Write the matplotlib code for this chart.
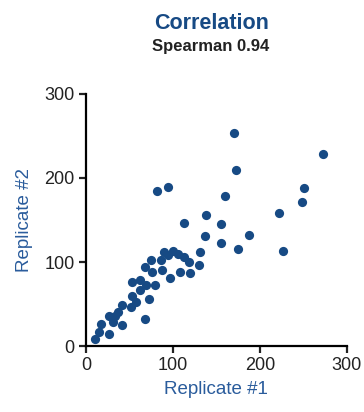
import matplotlib.pyplot as plt

# values
rep1 = [170, 273, 172, 82, 94, 160, 251, 248, 222, 138, 113, 155, 137, 188, 155,
        175, 227, 131, 130, 120, 108, 119, 113, 106, 100, 94, 90, 86, 75, 68,
        76, 87, 97, 79, 69, 62, 53, 62, 53, 58, 52, 42, 72, 68, 37, 34, 26,
        31, 42, 17, 27, 15, 11]
rep2 = [254, 228, 209, 184, 189, 178, 188, 172, 158, 156, 146, 145, 131, 132, 123,
        116, 113, 112, 96, 87, 88, 100, 106, 110, 113, 108, 112, 102, 103, 94,
        88, 90, 81, 73, 73, 79, 76, 67, 60, 52, 46, 49, 56, 32, 40, 36, 36,
        29, 25, 26, 14, 17, 8]

navy = '#174a84'
blue = '#2a5c9c'
font = ['Liberation Sans', 'DejaVu Sans']

fig = plt.figure(figsize=(3.64, 4.12), dpi=100)
ax = fig.add_axes([0.236, 0.160, 0.717, 0.612])
ax.scatter(rep1, rep2, s=44, color=navy, linewidths=0, zorder=3, clip_on=False)

ax.set_xlim(0, 300)
ax.set_ylim(0, 300)
ax.set_xticks([0, 100, 200, 300])
ax.set_yticks([0, 100, 200, 300])
for s in ['top', 'right']:
    ax.spines[s].set_visible(False)
for s in ['left', 'bottom']:
    ax.spines[s].set_linewidth(1.6)
ax.tick_params(width=1.6, length=5, labelsize=13, pad=3, colors='#222222')
for lab in ax.get_xticklabels() + ax.get_yticklabels():
    lab.set_family(font)

ax.set_xlabel('Replicate #1', fontsize=13.5, color=blue, family=font, labelpad=5)
ax.set_ylabel('Replicate #2', fontsize=13.5, color=blue, family=font, labelpad=8)

fig.text(0.58, 0.944, 'Correlation', ha='center', va='center', fontsize=15.5,
         fontweight='bold', color=navy, family=font)
fig.text(0.58, 0.888, 'Spearman 0.94', ha='center', va='center', fontsize=12,
         fontweight='bold', color='#222222', family=font)

fig.savefig('out.png', dpi=100)
